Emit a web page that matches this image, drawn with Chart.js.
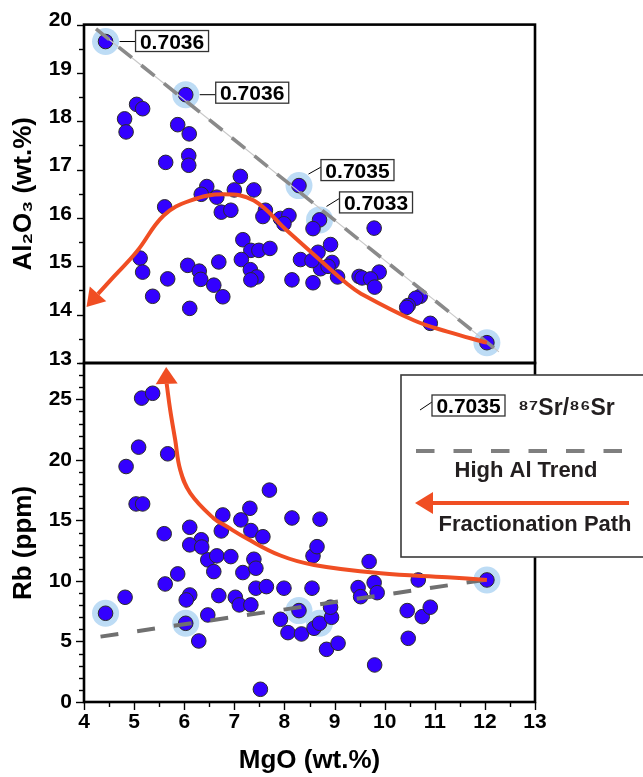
<!DOCTYPE html>
<html><head><meta charset="utf-8">
<script src="https://cdn.jsdelivr.net/npm/chart.js@4.4.1/dist/chart.umd.min.js"></script>
<style>
html,body{margin:0;padding:0;background:#fff;}
#wrap{position:relative;width:643px;height:777px;overflow:hidden;}
canvas{position:absolute;left:0;top:0;}
</style></head><body>
<div id="wrap"><canvas id="bot" width="643" height="777"></canvas><canvas id="top" width="643" height="777"></canvas></div>
<script>
// ---------------- DATA ----------------
const mgoTop = [4.43,6.03,5.05,5.17,4.81,4.84,5.87,6.10,5.63,6.09,6.09,8.29,7.12,7.39,6.45,7.00,6.34,6.65,5.61,6.74,6.93,7.62,7.57,7.92,8.09,7.99,8.70,8.57,7.17,7.33,7.49,7.71,7.14,7.32,7.45,7.33,5.12,5.17,5.67,5.37,6.07,6.30,6.33,6.59,6.77,6.69,6.11,8.15,8.32,8.57,8.67,8.92,8.72,8.95,8.87,9.06,9.49,9.79,8.55,9.55,9.89,9.72,9.80,10.71,10.62,10.47,10.44,10.91,12.04];
const al2o3 = [19.65,18.55,18.35,18.26,18.05,17.78,17.93,17.74,17.15,17.29,17.09,16.67,16.86,16.58,16.65,16.58,16.49,16.43,16.23,16.12,16.16,16.16,16.03,15.99,16.05,15.88,15.96,15.78,15.55,15.33,15.33,15.37,15.14,14.93,14.78,14.72,15.17,14.88,14.74,14.38,15.02,14.90,14.73,14.61,14.37,15.09,14.13,14.72,15.14,14.66,15.29,15.45,14.95,15.08,15.00,14.78,14.79,15.79,15.12,14.76,14.88,14.74,14.57,14.38,14.34,14.19,14.15,13.82,13.42];
const mgoBot = [5.15,5.37,5.09,5.67,4.84,5.04,5.17,7.70,7.31,6.77,7.13,8.15,8.71,5.60,6.11,6.74,7.33,7.57,6.34,6.11,6.35,6.47,6.65,6.93,6.59,7.17,7.39,7.43,5.87,5.62,4.82,4.43,6.11,6.04,6.69,7.02,7.10,7.33,7.43,7.64,7.99,8.55,6.47,6.03,6.29,7.52,8.29,7.92,8.07,8.34,8.59,8.70,8.94,8.92,8.84,9.07,8.57,8.65,9.69,9.47,9.79,9.85,9.52,10.67,10.45,10.75,10.91,10.47,9.80,12.04];
const rb = [25.1,25.5,21.05,20.5,19.45,16.36,16.36,17.5,16.0,15.45,15.04,15.2,15.1,13.9,14.43,14.13,14.16,13.65,13.4,12.98,12.8,11.74,12.07,12.01,10.77,10.69,11.79,11.05,10.58,9.75,8.65,7.33,8.84,8.43,8.79,8.65,8.02,8.02,9.4,9.53,9.4,9.4,7.19,6.5,5.04,1.05,7.55,6.83,5.73,5.62,6.09,6.5,7.0,7.83,4.35,4.85,12.07,12.83,11.6,9.45,9.86,9.03,8.7,10.08,7.55,7.05,7.83,5.26,3.06,10.08];

// samples with 87Sr/86Sr
const srMgO = [4.43,6.03,8.29,8.70,12.04];
const srAl2o3 = [19.65,18.55,16.67,15.96,13.42];
const srRb = [7.33,6.50,7.55,6.50,10.08];
const srRatio = ['0.7036','0.7036','0.7035','0.7033',''];

// High Al trend lines
const highAlTopMgO = [4.24,12.28];
const highAlTopAl = [19.91,13.23];
const highAlBotMgO = [4.33,12.09];
const highAlBotRb = [5.40,10.14];

// Fractionation paths (end at arrowhead base) and arrow tips
const fracTopMgO = [12.04,11.25,10.59,9.52,9.25,8.72,8.05,7.39,6.79,6.12,5.59,5.05,4.59,4.28];
const fracTopAl = [13.42,13.65,13.88,14.44,14.64,15.12,15.74,16.36,16.49,16.36,16.05,15.30,14.78,14.43];
const fracTopTip = [4.05,14.16];
const fracBotMgO = [12.04,11.25,9.92,8.59,7.92,7.25,6.85,6.58,6.12,5.92,5.82,5.72,5.65];
const fracBotRb = [10.08,10.30,10.63,11.32,12.10,13.50,14.49,15.20,17.25,19.17,21.65,24.13,26.28];
const fracBotTip = [5.64,27.66];

// tick labels
const xTickLabels = [4,5,6,7,8,9,10,11,12,13];
const alTickLabels = [13,14,15,16,17,18,19,20];
const rbTickLabels = [0,5,10,15,20,25];
const legendRatio = '0.7035';

// ---------------- STYLE ----------------
const FONT = "'Liberation Sans', Arial, Helvetica, sans-serif";
Chart.defaults.font.family = FONT;
Chart.defaults.color = '#000';
const BLUE = '#3300ff', HALO = '#bddcf5', ORANGE = '#f04e23', TXT = '#231f20';

const pts = (xs, ys) => xs.map((x, i) => ({x, y: ys[i]}));
const steps = (a, b, s) => { const r = []; for (let v = a; v <= b + 1e-9; v += s) r.push(Math.round(v * 1000) / 1000); return r; };
const has = (arr, v) => arr.some(t => Math.abs(t - v) < 1e-6);

const frameTicks = {
  id: 'frameTicks',
  afterDraw(chart, args, opts) {
    const {ctx, chartArea: a} = chart;
    ctx.save();
    ctx.strokeStyle = '#000';
    ctx.lineWidth = 1.4;
    (opts.axes || []).forEach(ax => {
      const s = chart.scales[ax.id];
      s.ticks.forEach(t => {
        const len = has(ax.major, t.value) ? ax.majorLen : ax.minorLen;
        const p = Math.round(s.getPixelForValue(t.value)) + 0.5;
        ctx.beginPath();
        if (s.isHorizontal()) { ctx.moveTo(p, a.bottom); ctx.lineTo(p, a.bottom + len); }
        else { ctx.moveTo(a.left, p); ctx.lineTo(a.left - len, p); }
        ctx.stroke();
      });
    });
    ctx.lineWidth = 2.6;
    ctx.strokeRect(a.left, a.top, a.right - a.left, a.bottom - a.top);
    ctx.restore();
  }
};

function drawArrowHead(ctx, bx, by, tx, ty, half, color) {
  const dx = tx - bx, dy = ty - by, L = Math.hypot(dx, dy);
  const px = -dy / L, py = dx / L;
  ctx.beginPath();
  ctx.moveTo(tx, ty);
  ctx.lineTo(bx + px * half, by + py * half);
  ctx.lineTo(bx - px * half, by - py * half);
  ctx.closePath();
  ctx.fillStyle = color;
  ctx.fill();
}

const arrowPlugin = {
  id: 'arrowHead',
  afterDatasetsDraw(chart, args, opts) {
    const {ctx} = chart, sx = chart.scales.x, sy = chart.scales.y;
    const n = opts.baseX.length - 1;
    ctx.save();
    drawArrowHead(ctx, sx.getPixelForValue(opts.baseX[n]), sy.getPixelForValue(opts.baseY[n]),
      sx.getPixelForValue(opts.tip[0]), sy.getPixelForValue(opts.tip[1]), 11, ORANGE);
    ctx.restore();
  }
};

function drawRatioBox(ctx, text, left, cy) {
  ctx.font = 'bold 21px ' + FONT;
  const w = 73, h = 21;
  ctx.fillStyle = '#fff';
  ctx.fillRect(left, cy - h / 2, w, h);
  ctx.strokeStyle = '#333';
  ctx.lineWidth = 1.3;
  ctx.strokeRect(left, cy - h / 2, w, h);
  ctx.fillStyle = '#000';
  ctx.textAlign = 'center';
  ctx.textBaseline = 'alphabetic';
  ctx.fillText(text, left + w / 2, cy + 7.5);
}

// layout of ratio labels relative to their point (pixels)
const ratioLayout = [
  {bx: 30, by: -0.5, l0: [14, 0], l1: [30, 0]},
  {bx: 30, by: -2, l0: [14, 0], l1: [30, 0]},
  {bx: 22, by: -15.5, l0: [9.5, -11.5], l1: [22, -18.5]},
  {bx: 20, by: -17.5, l0: [7, -13.5], l1: [20, -21.5]}
];

const ratioLabels = {
  id: 'ratioLabels',
  afterDraw(chart) {
    const {ctx} = chart, sx = chart.scales.x, sy = chart.scales.y;
    ctx.save();
    srRatio.forEach((txt, i) => {
      if (!txt) return;
      const L = ratioLayout[i];
      const px = sx.getPixelForValue(srMgO[i]), py = sy.getPixelForValue(srAl2o3[i]);
      ctx.strokeStyle = '#000';
      ctx.lineWidth = 1;
      ctx.beginPath();
      ctx.moveTo(px + L.l0[0], py + L.l0[1]);
      ctx.lineTo(px + L.l1[0], py + L.l1[1]);
      ctx.stroke();
      drawRatioBox(ctx, txt, px + L.bx, py + L.by);
    });
    ctx.restore();
  }
};

const legendBox = {
  id: 'legendBox',
  afterDraw(chart) {
    const {ctx} = chart;
    ctx.save();
    // y title for Rb
    ctx.save();
    ctx.translate(24, 543);
    ctx.rotate(-Math.PI / 2);
    ctx.font = 'bold 26px ' + FONT;
    ctx.fillStyle = '#000';
    ctx.textAlign = 'center';
    ctx.textBaseline = 'middle';
    ctx.fillText('Rb (ppm)', 0, 0);
    ctx.restore();

    // box
    ctx.fillStyle = '#fff';
    ctx.fillRect(401, 375, 260, 182);
    ctx.strokeStyle = '#3a3a3a';
    ctx.lineWidth = 1.6;
    ctx.strokeRect(401, 375, 260, 182);

    // ratio sample
    ctx.strokeStyle = '#000';
    ctx.lineWidth = 1;
    ctx.beginPath(); ctx.moveTo(420, 410); ctx.lineTo(432, 402); ctx.stroke();
    drawRatioBox(ctx, legendRatio, 432, 405.5);
    ctx.font = 'bold 23px ' + FONT;
    ctx.fillStyle = TXT;
    ctx.textAlign = 'left';
    ctx.textBaseline = 'alphabetic';
    ctx.fillText('\u2078\u2077Sr/\u2078\u2076Sr', 518, 415);

    // dashed line
    ctx.strokeStyle = '#7f7f7f';
    ctx.lineWidth = 4;
    ctx.setLineDash([18.5, 19]);
    ctx.beginPath(); ctx.moveTo(416, 451); ctx.lineTo(624, 451); ctx.stroke();
    ctx.setLineDash([]);
    ctx.font = 'bold 22px ' + FONT;
    ctx.fillStyle = TXT;
    ctx.textAlign = 'center';
    ctx.fillText('High Al Trend', 526, 477);

    // orange arrow
    ctx.strokeStyle = ORANGE;
    ctx.lineWidth = 4;
    ctx.beginPath(); ctx.moveTo(629, 503); ctx.lineTo(432, 503); ctx.stroke();
    drawArrowHead(ctx, 433, 503, 415, 503, 11, ORANGE);
    ctx.fillStyle = TXT;
    ctx.fillText('Fractionation Path', 535, 531);
    ctx.restore();
  }
};

const tickFont = {size: 21, weight: 'bold'};
const titleFont = {size: 26, weight: 'bold'};

const common = {
  responsive: false, animation: false, events: [],
  plugins: {legend: {display: false}, tooltip: {enabled: false}}
};

const scatterDs = (data) => ({
  label: 'Samples', data, pointRadius: 7.3, pointBackgroundColor: BLUE,
  pointBorderColor: '#2a2a2a', pointBorderWidth: 1, order: 4, clip: false
});
const haloDs = (data) => ({
  label: '87Sr/86Sr samples', data, pointRadius: 13.5, pointBackgroundColor: HALO,
  pointBorderWidth: 0, order: 5, clip: false
});

// ---------------- TOP CHART ----------------
new Chart(document.getElementById('top'), {
  type: 'scatter',
  data: {datasets: [
    haloDs(pts(srMgO, srAl2o3)),
    scatterDs(pts(mgoTop, al2o3)),
    {label: 'High Al guide', data: pts(highAlTopMgO, highAlTopAl), showLine: true, borderColor: '#c8c8c8', borderWidth: 1.2, pointRadius: 0, order: 3, clip: false},
    {label: 'High Al Trend', data: pts(highAlTopMgO, highAlTopAl), showLine: true, borderColor: '#8a8a8a', borderWidth: 3.6, borderDash: [17, 12], pointRadius: 0, order: 2, clip: false},
    {label: 'Fractionation Path', data: pts(fracTopMgO, fracTopAl), showLine: true, borderColor: ORANGE, borderWidth: 4, tension: 0.4, pointRadius: 0, order: 1, clip: false}
  ]},
  options: Object.assign({}, common, {
    layout: {padding: {left: 0, top: 24, right: 108, bottom: 414}},
    scales: {
      x: {type: 'linear', min: 4, max: 13, display: false},
      y: {type: 'linear', min: 13, max: 20,
        afterFit: s => { s.width = 84; },
        afterBuildTicks: s => { s.ticks = steps(13, 20, 0.5).map(v => ({value: v})); },
        grid: {display: false, drawTicks: false}, border: {display: false},
        ticks: {autoSkip: false, padding: 12, labelOffset: -4, font: tickFont, color: '#000',
          callback: v => has(alTickLabels, v) ? String(Math.round(v)) : ''},
        title: {display: true, text: 'Al\u2082O\u2083 (wt.%)', font: titleFont, color: '#000', padding: {top: 8, bottom: 0}}
      }
    },
    plugins: Object.assign({}, common.plugins, {
      frameTicks: {axes: [{id: 'y', major: alTickLabels, majorLen: 7, minorLen: 5}]},
      arrowHead: {baseX: fracTopMgO, baseY: fracTopAl, tip: fracTopTip}
    })
  }),
  plugins: [frameTicks, arrowPlugin, ratioLabels]
});

// ---------------- BOTTOM CHART ----------------
new Chart(document.getElementById('bot'), {
  type: 'scatter',
  data: {datasets: [
    haloDs(pts(srMgO, srRb)),
    scatterDs(pts(mgoBot, rb)),
    {label: 'High Al Trend', data: pts(highAlBotMgO, highAlBotRb), showLine: true, borderColor: '#707070', borderWidth: 4, borderDash: [18, 19], pointRadius: 0, order: 2, clip: false},
    {label: 'Fractionation Path', data: pts(fracBotMgO, fracBotRb), showLine: true, borderColor: ORANGE, borderWidth: 4, tension: 0.4, pointRadius: 0, order: 1, clip: false}
  ]},
  options: Object.assign({}, common, {
    layout: {padding: {left: 0, top: 363, right: 108, bottom: 0}},
    scales: {
      x: {type: 'linear', min: 4, max: 13,
        afterFit: s => { s.height = 75; },
        afterBuildTicks: s => { s.ticks = steps(4, 13, 0.5).map(v => ({value: v})); },
        grid: {display: false, drawTicks: false}, border: {display: false},
        ticks: {autoSkip: false, maxRotation: 0, padding: 8, font: tickFont, color: '#000',
          callback: v => has(xTickLabels, v) ? String(Math.round(v)) : ''},
        title: {display: true, text: 'MgO (wt.%)', font: titleFont, color: '#000', padding: {top: 0, bottom: 1}}
      },
      y: {type: 'linear', min: 0, max: 28,
        afterFit: s => { s.width = 84; },
        afterBuildTicks: s => { s.ticks = steps(0, 28, 1).map(v => ({value: v})); },
        grid: {display: false, drawTicks: false}, border: {display: false},
        ticks: {autoSkip: false, padding: 12, font: tickFont, color: '#000',
          callback: v => has(rbTickLabels, v) ? String(Math.round(v)) : ''},
        title: {display: false}
      }
    },
    plugins: Object.assign({}, common.plugins, {
      frameTicks: {axes: [
        {id: 'x', major: xTickLabels, majorLen: 8, minorLen: 5},
        {id: 'y', major: rbTickLabels, majorLen: 8, minorLen: 5}
      ]},
      arrowHead: {baseX: fracBotMgO, baseY: fracBotRb, tip: fracBotTip}
    })
  }),
  plugins: [frameTicks, arrowPlugin, legendBox]
});
</script>
</body></html>
